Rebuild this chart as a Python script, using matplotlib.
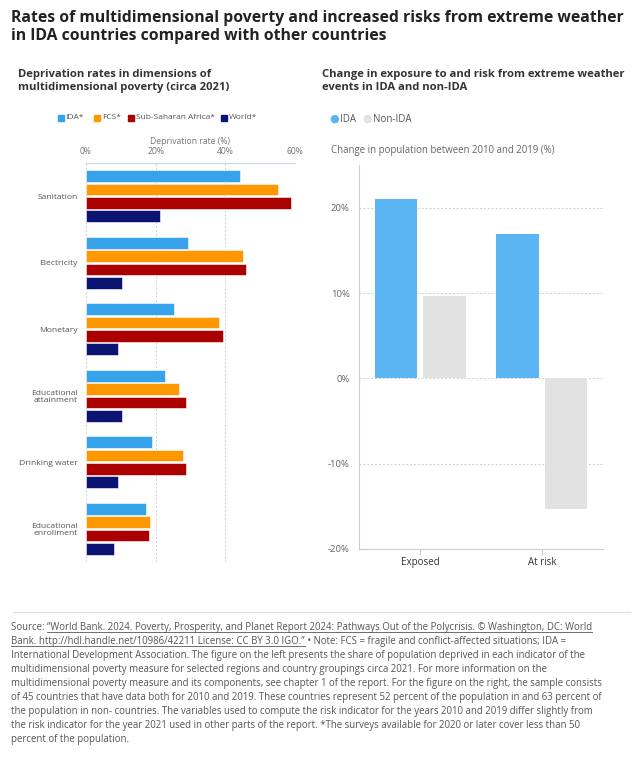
import matplotlib
matplotlib.use("Agg")
import matplotlib.pyplot as plt
import numpy as np

plt.rcParams['font.family'] = ['Open Sans', 'DejaVu Sans']

# left panel data (deprivation rate, %)
dimensions = ["Sanitation", "Electricity", "Monetary", "Educational\nattainment",
              "Drinking water", "Educational\nenrollment"]
groups = ["IDA*", "FCS*", "Sub-Saharan Africa*", "World*"]
ida = [44.2, 29.2, 25.3, 22.6, 19.0, 17.3]
fcs = [55.1, 45.2, 38.3, 26.6, 27.8, 18.4]
ssa = [58.9, 45.8, 39.2, 28.8, 28.6, 18.0]
world = [21.2, 10.4, 9.3, 10.2, 9.1, 8.1]
left_colors = ["#36a3eb", "#ff9800", "#aa0000", "#0c1472"]

# right panel data (change in population 2010-2019, %)
risk_cats = ["Exposed", "At risk"]
ida_change = [21.0, 16.9]
nonida_change = [9.7, -15.3]
right_colors = ["#5bb5f2", "#e2e2e2"]

W, H = 642, 758
fig = plt.figure(figsize=(W / 100, H / 100), dpi=100)

def fx(x):
    return x / W

def fy(y):
    return 1 - y / H

dark = "#333333"

fig.text(fx(11), fy(27), "Rates of multidimensional poverty and increased risks from extreme weather\nin IDA countries compared with other countries",
         fontsize=11.3, fontweight="bold", color="#222222", va="center", ha="left", linespacing=1.25)

# ---------- left panel ----------
fig.text(fx(18), fy(81), "Deprivation rates in dimensions of\nmultidimensional poverty (circa 2021)",
         fontsize=8.1, fontweight="bold", color=dark, va="center", ha="left", linespacing=1.3)

axL = fig.add_axes([fx(86), fy(562), fx(295) - fx(86), (562 - 163) / H])
series = [ida, fcs, ssa, world]
offs = [-0.3, -0.1, 0.1, 0.3]
ypos = np.arange(len(dimensions))
for vals, off, col, lab in zip(series, offs, left_colors, groups):
    axL.barh(ypos + off, vals, height=0.176, color=col, edgecolor="white", linewidth=0.4, label=lab, zorder=3)
axL.set_xlim(0, 60)
axL.set_ylim(len(dimensions) - 0.5, -0.5)
axL.set_yticks(ypos)
axL.set_yticklabels(dimensions, fontsize=6.1, color="#555555", linespacing=1.0)
axL.set_xticks([0, 20, 40, 60])
axL.set_xticklabels(["0%", "20%", "40%", "60%"], fontsize=6.2, color="#777777")
axL.xaxis.tick_top()
axL.tick_params(axis="x", length=0, pad=5)
axL.tick_params(axis="y", length=0, pad=6)
axL.grid(axis="x", linestyle=(0, (2, 2)), color="#cfcfcf", linewidth=0.7, zorder=0)
for s in ["left", "right", "bottom"]:
    axL.spines[s].set_visible(False)
axL.spines["top"].set_color("#ccd6eb")
axL.spines["top"].set_linewidth(0.8)
fig.text(fx(190), fy(141), "Deprivation rate (%)", fontsize=6.2, color="#777777", ha="center", va="center")

# left legend
leg_x = [60, 96.5, 130.5, 223]
for x, col, lab in zip(leg_x, left_colors, groups):
    fig.patches.append(plt.Rectangle((fx(x - 2.5), fy(120.5)), fx(6), 6 / H, color=col, transform=fig.transFigure))
    fig.text(fx(x + 5.5), fy(117.5), lab, fontsize=6.0, color="#555555", ha="left", va="center")

# ---------- right panel ----------
fig.text(fx(322), fy(81), "Change in exposure to and risk from extreme weather\nevents in IDA and non-IDA",
         fontsize=8.1, fontweight="bold", color=dark, va="center", ha="left", linespacing=1.3)
fig.text(fx(331), fy(151), "Change in population between 2010 and 2019 (%)", fontsize=6.9, color="#666666",
         ha="left", va="center")
for x, col, lab in zip([334, 367.5], right_colors, ["IDA", "Non-IDA"]):
    fig.text(fx(x), fy(119.5), "\u25cf", fontsize=8, color=col, ha="center", va="center")
    fig.text(fx(x + 6), fy(119.5), lab, fontsize=7, color="#555555", ha="left", va="center")

axR = fig.add_axes([fx(359.3), fy(549), fx(602.7) - fx(359.3), (549 - 165) / H])
xpos = np.arange(len(risk_cats))
axR.bar(xpos - 0.2, ida_change, width=0.35, color=right_colors[0], zorder=3)
axR.bar(xpos + 0.2, nonida_change, width=0.35, color=right_colors[1], zorder=3)
axR.set_xlim(-0.5, 1.5)
axR.set_ylim(-20, 25)
axR.set_yticks([-20, -10, 0, 10, 20])
axR.set_yticklabels(["-20%", "-10%", "0%", "10%", "20%"], fontsize=6.8, color="#666666")
axR.set_xticks(xpos)
axR.set_xticklabels(risk_cats, fontsize=7, color=dark)
axR.tick_params(axis="y", length=0, pad=7)
axR.tick_params(axis="x", length=4, color="#cccccc", width=0.8, pad=2)
for yv in [-10, 0, 10, 20]:
    axR.axhline(yv, linestyle=(0, (2, 2)), color="#cfcfcf", linewidth=0.7, zorder=1)
axR.spines["top"].set_visible(False)
axR.spines["right"].set_visible(False)
for s in ["left", "bottom"]:
    axR.spines[s].set_color("#cccccc")
    axR.spines[s].set_linewidth(0.8)

# ---------- footer ----------
fig.add_artist(plt.Line2D([fx(13), fx(630)], [fy(612.3), fy(612.3)], color="#dddddd", linewidth=0.8,
                          transform=fig.transFigure))

foot_fs = 6.9
foot_col = "#555555"
lines = [
    [("Source: ", False), ("\u201cWorld Bank. 2024. Poverty, Prosperity, and Planet Report 2024: Pathways Out of the Polycrisis. \u00a9 Washington, DC: World", True)],
    [("Bank. http://hdl.handle.net/10986/42211 License: CC BY 3.0 IGO.\u201d", True), (" \u2022 Note: FCS = fragile and conflict-affected situations; IDA =", False)],
    [("International Development Association. The figure on the left presents the share of population deprived in each indicator of the", False)],
    [("multidimensional poverty measure for selected regions and country groupings circa 2021. For more information on the", False)],
    [("multidimensional poverty measure and its components, see chapter 1 of the report. For the figure on the right, the sample consists", False)],
    [("of 45 countries that have data both for 2010 and 2019. These countries represent 52 percent of the population in and 63 percent of", False)],
    [("the population in non- countries. The variables used to compute the risk indicator for the years 2010 and 2019 differ slightly from", False)],
    [("the risk indicator for the year 2021 used in other parts of the report. *The surveys available for 2020 or later cover less than 50", False)],
    [("percent of the population.", False)],
]

fig.canvas.draw()
renderer = fig.canvas.get_renderer()
y0 = 627.5
pitch = 13.95
for i, segs in enumerate(lines):
    x = 11.0
    ycen = y0 + i * pitch
    for txt, under in segs:
        t = fig.text(fx(x), fy(ycen), txt, fontsize=foot_fs, color=foot_col, ha="left", va="center")
        bb = t.get_window_extent(renderer=renderer)
        w = bb.width * 100 / fig.dpi
        if under:
            uy = ycen + 4.5
            fig.add_artist(plt.Line2D([fx(x), fx(x + w)], [fy(uy), fy(uy)], color=foot_col, linewidth=0.6,
                                      transform=fig.transFigure))
        x += w

fig.savefig("out.png", dpi=100, facecolor="white")
